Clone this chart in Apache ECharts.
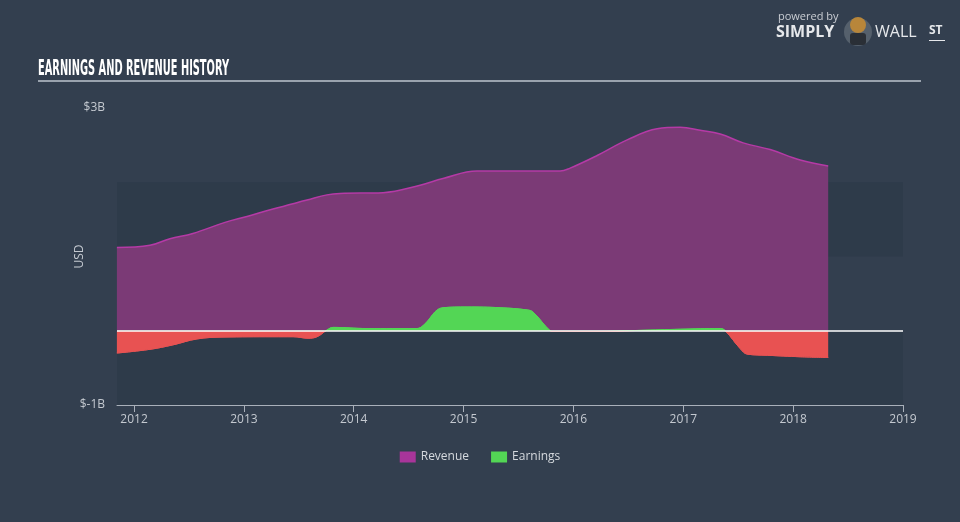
<!DOCTYPE html>
<html>
<head>
<meta charset="utf-8">
<script src="https://cdn.jsdelivr.net/npm/echarts@6/dist/echarts.min.js"></script>
<style>
html,body{margin:0;padding:0;background:#333f4f;}
#chart{width:960px;height:522px;}
</style>
</head>
<body>
<div id="chart"></div>
<script>
// Revenue (USD billions), sampled along time (decimal years)
var revenueYears = [2011.844, 2012.145, 2012.327, 2012.536, 2012.828, 2013.028, 2013.265, 2013.575, 2013.757, 2013.875, 2014.267, 2014.604, 2014.813, 2015.123, 2015.332, 2015.879, 2015.970, 2016.216, 2016.489, 2016.762, 2016.972, 2017.154, 2017.336, 2017.545, 2017.791, 2018.064, 2018.319];
var revenueValues = [1.12, 1.15, 1.24, 1.31, 1.46, 1.54, 1.64, 1.76, 1.83, 1.85, 1.86, 1.96, 2.05, 2.15, 2.15, 2.15, 2.19, 2.36, 2.57, 2.72, 2.74, 2.70, 2.65, 2.53, 2.44, 2.30, 2.22];
// Earnings (USD billions)
var earningsYears = [2011.844, 2012.145, 2012.354, 2012.573, 2012.810, 2013.265, 2013.448, 2013.584, 2013.666, 2013.757, 2013.812, 2014.122, 2014.577, 2014.632, 2014.813, 2015.032, 2015.332, 2015.578, 2015.633, 2015.788, 2015.815, 2016.243, 2016.607, 2016.972, 2017.336, 2017.382, 2017.518, 2017.583, 2017.765, 2018.064, 2018.319];
var earningsValues = [-0.30, -0.25, -0.19, -0.11, -0.085, -0.08, -0.08, -0.10, -0.08, 0.01, 0.045, 0.03, 0.03, 0.07, 0.31, 0.32, 0.31, 0.28, 0.25, 0.0, -0.01, -0.01, 0.005, 0.02, 0.03, 0.0, -0.24, -0.315, -0.33, -0.35, -0.36];
// Axis ticks
var xTickYears = [2012, 2013, 2014, 2015, 2016, 2017, 2018, 2019];
var yTickValues = [-1, 3];
var yTickLabels = ['$-1B', '$3B'];

function pairs(xs, ys) { return xs.map(function (x, i) { return [x, ys[i]]; }); }

var GREEN = '#53d655', RED = '#e85252';
var titleText = 'EARNINGS AND REVENUE HISTORY';
var titleFont = 'bold 20px "DejaVu Sans Condensed", "DejaVu Sans", sans-serif';
var mc = document.createElement('canvas').getContext('2d');
mc.font = titleFont;
var titleScaleX = 191 / mc.measureText(titleText).width;

var chart = echarts.init(document.getElementById('chart'), null, {renderer: 'canvas'});
var font = 'Open Sans';
function signGradient(zeroY) {
  var top = 108, h = 522;
  var s = zeroY / h;
  return {type: 'linear', x: 0, y: 0, x2: 0, y2: h, global: true,
    colorStops: [{offset: 0, color: GREEN}, {offset: s, color: GREEN}, {offset: s, color: RED}, {offset: 1, color: RED}]};
}
var option = {
  backgroundColor: '#333f4f',
  animation: false,
  textStyle: {fontFamily: font},
  graphic: [
    {type: 'text', x: 38, y: 59, scaleX: titleScaleX, scaleY: 1.02, style: {text: titleText, fill: '#ffffff', font: titleFont}},
    {type: 'rect', shape: {x: 38, y: 80, width: 883, height: 2}, style: {fill: '#9aa3ae'}},
    {type: 'text', left: 778, top: 11, style: {text: 'powered by', fill: '#c9cdd3', font: '11px "Open Sans"'}},
    {type: 'text', left: 776, top: 24, style: {text: 'SIMPLY', fill: '#e6e8eb', font: 'bold 16px "Open Sans"'}},
    {type: 'circle', shape: {cx: 858, cy: 32, r: 14}, style: {fill: '#55606c'}},
    {type: 'circle', shape: {cx: 858, cy: 25, r: 8}, style: {fill: '#b8863a'}},
    {type: 'rect', shape: {x: 850, y: 33, width: 16, height: 12, r: 3}, style: {fill: '#2a2f36'}},
    {type: 'text', left: 875, top: 24, style: {text: 'WALL', fill: '#e6e8eb', font: '16px "Open Sans"'}},
    {type: 'text', left: 929, top: 25, style: {text: 'ST', fill: '#e6e8eb', font: 'bold 12px "Open Sans"'}},
    {type: 'rect', shape: {x: 929, y: 40, width: 16, height: 1}, style: {fill: '#e6e8eb'}}
  ],
  grid: {left: 117, right: 57, top: 108, bottom: 117, containLabel: false},
  legend: {
    bottom: 54, left: 'center', itemWidth: 16, itemHeight: 11, itemGap: 22, icon: 'rect',
    textStyle: {color: '#d5d9de', fontSize: 12, fontFamily: font},
    data: [{name: 'Revenue', itemStyle: {color: '#a8359a'}}, {name: 'Earnings', itemStyle: {color: GREEN}}]
  },
  xAxis: {
    type: 'value', min: 2011.845, max: 2019,
    axisLine: {show: true, onZero: false, lineStyle: {color: '#a9b0ba', width: 1}},
    axisTick: {show: true, customValues: xTickYears, length: 7, lineStyle: {color: '#a9b0ba'}},
    axisLabel: {customValues: xTickYears, color: '#c4c9d0', fontSize: 12, margin: 9, formatter: function (v) { return String(Math.round(v)); }},
    splitLine: {show: false}
  },
  yAxis: {
    type: 'value', min: -1, max: 3, interval: 1,
    name: 'USD', nameLocation: 'middle', nameRotate: 90, nameGap: 31, nameMoveOverlap: false,
    nameTextStyle: {color: '#c4c9d0', fontSize: 12},
    axisLine: {show: false}, axisTick: {show: false},
    axisLabel: {color: '#c4c9d0', fontSize: 12, margin: 12, formatter: function (v) {
      var i = yTickValues.indexOf(Math.round(v));
      return i >= 0 ? yTickLabels[i] : '';
    }},
    splitLine: {show: false},
    splitArea: {show: true, areaStyle: {color: ['#2e3b4a', 'rgba(0,0,0,0)']}}
  },
  series: [
    {
      name: 'Revenue', type: 'line', smooth: 0.4, symbol: 'none', z: 2,
      data: pairs(revenueYears, revenueValues),
      itemStyle: {color: '#a8359a'},
      lineStyle: {color: '#b53aa6', width: 1.5},
      areaStyle: {color: '#7b3a76', opacity: 1},
      markLine: {silent: true, symbol: 'none', label: {show: false},
        lineStyle: {color: '#ffffff', width: 1.5, type: 'solid'},
        data: [{yAxis: 0}]}
    },
    {
      name: 'Earnings', type: 'line', smooth: 0.4, symbol: 'none', z: 3,
      data: pairs(earningsYears, earningsValues),
      itemStyle: {color: GREEN},
      lineStyle: {width: 1, color: signGradient(330)},
      areaStyle: {opacity: 1, color: signGradient(330)}
    }
  ]
};
chart.setOption(option);
var zeroY = chart.convertToPixel({yAxisIndex: 0}, 0);
chart.setOption({series: [{}, {lineStyle: {color: signGradient(zeroY)}, areaStyle: {color: signGradient(zeroY)}}]});
</script>
</body>
</html>
